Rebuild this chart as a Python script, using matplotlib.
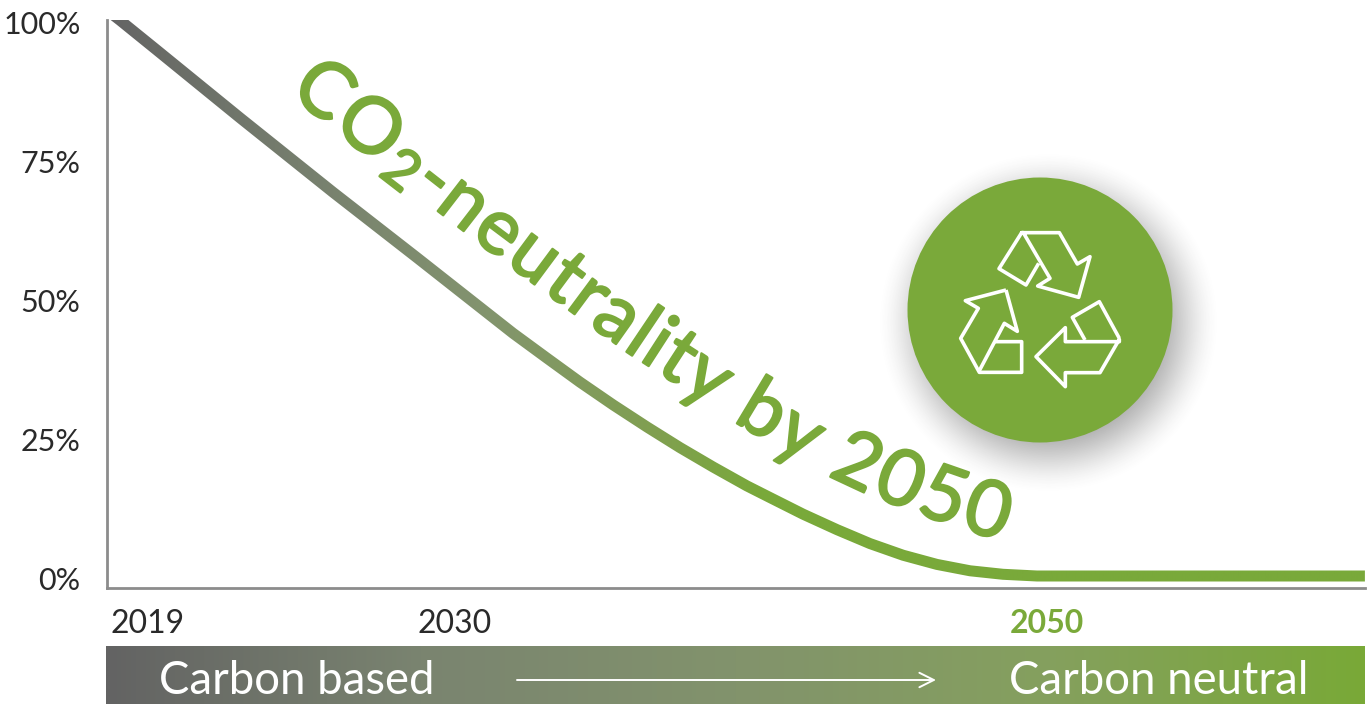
import matplotlib
matplotlib.use('Agg')
import matplotlib.pyplot as plt
import matplotlib.patheffects as pe
import numpy as np
from matplotlib.colors import LinearSegmentedColormap
from matplotlib.font_manager import FontProperties
from matplotlib.patches import Circle, Polygon
from matplotlib.path import Path
from matplotlib.textpath import text_to_path
from matplotlib.transforms import IdentityTransform, ScaledTranslation

plt.rcParams['font.family'] = ['Lato', 'DejaVu Sans']

# Data
years = [2018.1, 2018.68, 2019.93, 2022.74, 2025.88, 2028.72, 2030.84, 2031.96, 2033.11, 2034.22,
         2035.34, 2036.49, 2037.6, 2038.72, 2039.86, 2040.64, 2041.76, 2042.91, 2044.02, 2045.14,
         2046.28, 2047.4, 2048.51, 2049.66, 2060.74]
share = [102.9, 100.5, 95.1, 82.9, 69.5, 57.7, 48.8, 44.1, 39.6, 35.3,
         31.2, 27.2, 23.5, 20.0, 16.6, 14.5, 11.5, 8.7, 6.2, 4.1,
         2.45, 1.3, 0.67, 0.36, 0.36]
x_ticks = [2019, 2030, 2050]
y_ticks = [0, 25, 50, 75, 100]
y_labels = ['0%', '25%', '50%', '75%', '100%']
title = 'CO2-neutrality by 2050'
bar_left = 'Carbon based'
bar_right = 'Carbon neutral'

# Colours
green = '#7AA93A'
grey_axis = '#8C8C8C'
text_color = '#2A2A2A'
bar_cmap = LinearSegmentedColormap.from_list('bar', ['#636363', '#7A8470', '#82936C', '#85A05E', '#79A937'])
line_cmap = LinearSegmentedColormap.from_list(
    'line', [(0, '#646464'), (0.15, '#767E6E'), (0.3, '#83946E'), (0.44, '#80A04F'), (0.52, '#79A93A'), (1, '#79A93A')])

W, H = 1370, 704
fig = plt.figure(figsize=(W / 100, H / 100), dpi=100)

# Overlay in pixel units for the decoration
ax_px = fig.add_axes([0, 0, 1, 1])
ax_px.set_xlim(0, W)
ax_px.set_ylim(H, 0)
ax_px.axis('off')

# Main axes
left, right, top, bottom = 107, 1365, 20, 588
ax = fig.add_axes([left / W, 1 - bottom / H, (right - left) / W, (bottom - top) / H])
ax.patch.set_alpha(0)
ax.set_xlim(2030 + (left - 455) / 29.6, 2030 + (right - 455) / 29.6)
ax.set_ylim((578 - bottom) / 5.55, (578 - top) / 5.55)
for s in ['top', 'right']:
    ax.spines[s].set_visible(False)
for s in ['left', 'bottom']:
    ax.spines[s].set_color(grey_axis)
    ax.spines[s].set_linewidth(2)

ax.set_xticks(x_ticks)
ax.set_xticklabels([str(y) for y in x_ticks])
ax.set_yticks(y_ticks)
ax.set_yticklabels(y_labels)
ax.tick_params(axis='x', length=0, pad=15, labelsize=23, labelcolor=text_color)
ax.tick_params(axis='y', length=0, pad=19, labelsize=22, labelcolor=text_color)
labs = ax.get_xticklabels()
labs[0].set_transform(labs[0].get_transform() + ScaledTranslation(18.5 / 100, 0, fig.dpi_scale_trans))
labs[2].set_color(green)
labs[2].set_fontweight('bold')

# Curve: gradient image clipped to a band around the line
pts = ax.transData.transform(np.column_stack([years, share]))
tang = np.gradient(pts, axis=0)
tang = tang / np.linalg.norm(tang, axis=1, keepdims=True)
norm = np.column_stack([-tang[:, 1], tang[:, 0]])
half = 5.5
band = np.vstack([pts + norm * half, (pts - norm * half)[::-1]])
grad = np.linspace(0, 1, 512).reshape(1, -1)
im = ax.imshow(grad, cmap=line_cmap, aspect='auto', extent=[*ax.get_xlim(), *ax.get_ylim()], zorder=3)
im.set_clip_path(Path(np.vstack([band, band[:1]]), closed=True), IdentityTransform())

# Bottom bar
ax_px.imshow(grad, cmap=bar_cmap, aspect='auto', extent=[106, 1365, 704, 646])
ax_px.set_xlim(0, W)
ax_px.set_ylim(H, 0)
ax_px.text(159, 694, bar_left, color='white', fontsize=32.8, ha='left', va='baseline')
ax_px.text(1009, 694, bar_right, color='white', fontsize=32.8, ha='left', va='baseline')
ax_px.annotate('', xy=(936, 680), xytext=(517, 680),
               arrowprops=dict(arrowstyle='->', color='white', lw=1.4, mutation_scale=26, shrinkA=0, shrinkB=0))

# Badge with soft shadow
cx, cy, r = 1040, 310, 132.5
yy, xx = np.mgrid[130:520, 860:1250]
d = np.hypot(xx - (cx + 8), yy - (cy + 12))
fade = np.clip((r + 40 - d) / 80, 0, 1)
shadow = np.zeros(d.shape + (4,))
shadow[..., :3] = 0.25
shadow[..., 3] = 0.5 * fade * fade * (3 - 2 * fade)
ax_px.imshow(shadow, extent=[860, 1250, 520, 130], aspect='auto', interpolation='bilinear')
ax_px.set_xlim(0, W)
ax_px.set_ylim(H, 0)
ax_px.add_patch(Circle((cx, cy), r, color=green, lw=0))

# Recycling icon, coordinates measured in a 3x crop starting at (880, 160)
icon = [
    ([(425, 218), (538, 218), (592, 312), (630, 290), (596, 412), (473, 378), (510, 355), (430, 218)], True),
    ([(425, 218), (357, 326), (438, 375), (476, 310)], False),
    ([(378, 390), (256, 422), (295, 445), (242, 535), (298, 637), (425, 637), (425, 545), (345, 545)], False),
    ([(298, 632), (373, 490), (412, 514), (378, 390)], False),
    ([(718, 538), (660, 638), (556, 638), (556, 680), (468, 590), (556, 503), (556, 545), (718, 545)], True),
    ([(718, 535), (658, 425), (577, 472), (615, 540)], False),
]
for shape, closed in icon:
    xy = np.array(shape) / 3 + [880, 160]
    ax_px.add_patch(Polygon(xy, closed=closed, fill=False, ec='white', lw=2.6, joinstyle='round'))

# Title set letter by letter along its curved baseline
base = np.array([(288, 93), (310, 111), (352, 145), (435, 209), (457, 227), (616, 345), (650, 367), (681, 387),
                 (742, 427), (830, 477), (866, 493), (941, 523), (990, 537), (1010, 543)], dtype=float)
seg = np.hypot(*np.diff(base, axis=0).T)
dist = np.r_[0, np.cumsum(seg)]
size_main, size_sub = 56, 40
prop = FontProperties(family='Lato')


def advance(ch, size):
    # width in pixels, dots added so that spaces count
    p = prop.copy()
    p.set_size(size * 100 / 72)
    w1 = text_to_path.get_text_width_height_descent('.' + ch + '.', p, False)[0]
    w0 = text_to_path.get_text_width_height_descent('..', p, False)[0]
    return w1 - w0


sizes = [size_sub if i == 2 else size_main for i in range(len(title))]
widths = [advance(c, s) for c, s in zip(title, sizes)]
scale = (dist[-1] - 5) / sum(widths)
heavier = [pe.withStroke(linewidth=1.6, foreground=green)]
pos = 0
for i, (ch, size, w) in enumerate(zip(title, sizes, widths)):
    bx = np.interp(pos, dist, base[:, 0])
    by = np.interp(pos, dist, base[:, 1])
    x0, y0 = np.interp(pos - 25, dist, base[:, 0]), np.interp(pos - 25, dist, base[:, 1])
    x1, y1 = np.interp(pos + w + 25, dist, base[:, 0]), np.interp(pos + w + 25, dist, base[:, 1])
    ang = np.degrees(np.arctan2(y1 - y0, x1 - x0))
    if i == 2:
        # subscript sits below the baseline
        rad = np.radians(ang)
        bx += -np.sin(rad) * 8
        by += np.cos(rad) * 8
    ax_px.text(bx, by, ch, color=green, fontsize=size, rotation=-ang, rotation_mode='anchor',
               ha='left', va='baseline', zorder=5, path_effects=heavier)
    pos += w * scale

fig.savefig('out.png', dpi=100)
